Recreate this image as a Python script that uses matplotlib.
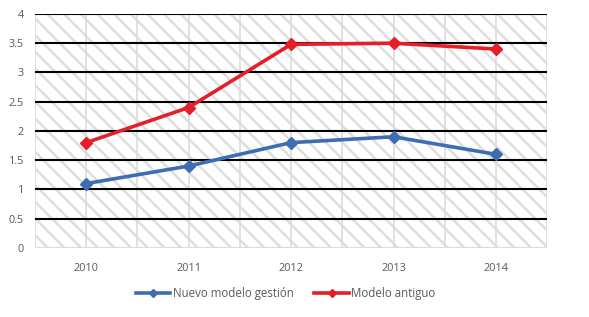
import matplotlib.pyplot as plt
import numpy as np

# dati
anni = ['2010', '2011', '2012', '2013', '2014']
nuovo = [1.1, 1.4, 1.8, 1.9, 1.6]
antiguo = [1.8, 2.4, 3.48, 3.5, 3.4]

blu = '#3F6DB4'
rosso = '#E3202A'
grigio = '#595959'

plt.rcParams['font.family'] = ['Open Sans', 'DejaVu Sans']
plt.rcParams['hatch.color'] = '#dedede'
plt.rcParams['hatch.linewidth'] = 1.8

fig = plt.figure(figsize=(5.89, 3.17), dpi=100)
ax = fig.add_axes([0.0594, 0.218, 0.8696, 0.738])

x = np.arange(len(anni))
ax.set_xlim(-0.5, len(anni) - 0.5)
ax.set_ylim(0, 4)

# sfondo tratteggiato
ax.patch.set_facecolor('white')
ax.fill_between([-0.5, len(anni) - 0.5], 0, 4, facecolor='white',
                hatch='\\\\', edgecolor='#dedede', linewidth=0, zorder=0)

# griglia verticale grigia ogni mezza categoria
for xv in np.arange(-0.5, len(anni), 0.5):
    ax.axvline(xv, color='#dcdcdc', lw=1.2, zorder=1)
# griglia orizzontale nera
for yv in np.arange(0.5, 4.01, 0.5):
    ax.axhline(yv, color='black', lw=1.5, zorder=2)
ax.axhline(0, color='#dcdcdc', lw=1.5, zorder=2)

ax.plot(x, nuovo, color=blu, lw=2.6, marker='D', ms=6.5, label='Nuevo modelo gestión', zorder=3)
ax.plot(x, antiguo, color=rosso, lw=2.6, marker='D', ms=6.5, label='Modelo antiguo', zorder=3)

ax.set_xticks(x)
ax.set_xticklabels(anni)
ax.set_yticks(np.arange(0, 4.01, 0.5))
ax.set_yticklabels(['0', '0.5', '1', '1.5', '2', '2.5', '3', '3.5', '4'])
ax.tick_params(axis='both', length=0, labelsize=7.8, colors=grigio, pad=8)
ax.tick_params(axis='x', pad=11)
for s in ax.spines.values():
    s.set_visible(False)

fig.legend(loc='center', bbox_to_anchor=(0.485, 0.075), ncol=2, frameon=False,
           fontsize=8.3, labelcolor=grigio, handlelength=3, handletextpad=0.2,
           columnspacing=1.8, markerscale=0.7)

fig.savefig('out.png', dpi=100)
